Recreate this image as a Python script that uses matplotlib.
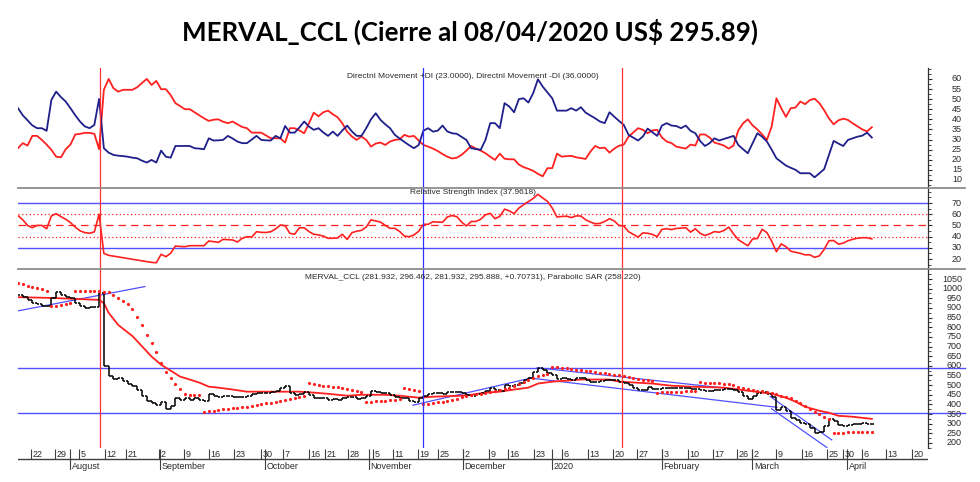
import numpy as np
import matplotlib
matplotlib.use("Agg")
import matplotlib.pyplot as plt
from matplotlib.lines import Line2D
from matplotlib.ticker import MultipleLocator
from matplotlib import font_manager

# ---------------- data (one value per trading day) ----------------
close = [965, 956, 940, 925, 918, 912, 910, 950, 985, 966,
         958, 950, 925, 910, 900, 904, 904, 978, 600, 545,
         532, 536, 520, 508, 495, 475, 445, 418, 405, 395,
         410, 378, 390, 433, 424, 435, 424, 433, 424, 419,
         455, 445, 440, 443, 445, 440, 436, 440, 446, 452,
         460, 461, 461, 463, 468, 485, 495, 458, 450, 455,
         466, 447, 435, 435, 435, 424, 429, 424, 432, 438,
         436, 430, 435, 446, 468, 466, 461, 461, 448, 438,
         435, 432, 417, 412, 435, 441, 455, 460, 457, 452,
         466, 466, 463, 458, 451, 442, 452, 460, 472, 483,
         476, 472, 500, 493, 501, 511, 525, 535, 570, 590,
         576, 565, 555, 530, 538, 530, 529, 535, 535, 528,
         518, 518, 522, 529, 529, 524, 516, 510, 500, 485,
         477, 477, 490, 479, 482, 487, 487, 484, 484, 487,
         483, 482, 480, 474, 471, 472, 476, 477, 478, 481,
         475, 465, 443, 430, 446, 461, 466, 452, 437, 370,
         385, 368, 330, 318, 305, 297, 280, 252, 257, 288,
         322, 315, 292, 287, 292, 296, 299, 303, 300, 296]

sar = [1032, 1022, 1014, 1008, 1003, 998, 990, 908, 912, 915,
       920, 924, 988, 988, 987, 987, 986, 986, 985, 981,
       968, 952, 937, 918, 895, 855, 810, 760, 716, 672,
       615, 570, 535, 508, 478, 455, 450, 450, 449, 362,
       365, 368, 371, 374, 377, 380, 383, 386, 389, 393,
       397, 401, 405, 409, 413, 417, 422, 428, 434, 440,
       444, 510, 506, 502, 498, 495, 492, 488, 484, 480,
       476, 471, 466, 412, 414, 416, 418, 420, 422, 424,
       426, 487, 482, 476, 470, 402, 404, 406, 410, 414,
       418, 423, 430, 436, 442, 448, 452, 456, 460, 464,
       468, 473, 478, 485, 495, 505, 515, 525, 535, 545,
       555, 560, 595, 592, 590, 587, 583, 580, 577, 574,
       571, 568, 565, 562, 559, 555, 551, 546, 541, 536,
       532, 528, 524, 520, 460, 462, 463, 464, 465, 466,
       467, 468, 469, 515, 513, 512, 511, 510, 508, 506,
       503, 490, 486, 482, 477, 472, 468, 463, 458, 452,
       446, 440, 432, 420, 405, 390, 375, 362, 350, 337,
       325, 252, 253, 254, 255, 256, 256, 257, 258, 258]

ma_idx = [0, 7, 17, 18, 19, 21, 24, 26, 28, 30, 32, 34, 36, 38, 40, 42, 45, 48, 51, 54,
          56, 59, 62, 65, 69, 72, 77, 80, 84, 87, 93, 95, 98, 101, 104, 107, 109, 112, 115, 118,
          124, 126, 133, 137, 141, 148, 153, 158, 161, 163, 165, 168, 170, 172, 175, 179]
ma_val = [956, 952, 942, 925, 875, 812, 754, 701, 648, 606, 575, 544, 529, 513, 492, 487, 477, 466, 466, 466,
          466, 466, 461, 455, 445, 450, 450, 445, 435, 440, 445, 450, 461, 466, 477, 487, 508, 518, 523, 529,
          529, 518, 508, 497, 492, 487, 471, 455, 435, 414, 388, 367, 357, 341, 336, 325]

dmi_plus = [45.5, 42.0, 39.5, 37.0, 35.6, 35.6, 34.3, 49.6, 53.7, 51.0,
            48.8, 45.5, 42.0, 38.9, 36.5, 35.6, 37.2, 50.1, 25.7, 23.5,
            22.4, 22.0, 21.8, 21.5, 21.0, 20.7, 19.5, 18.6, 19.9, 18.6,
            24.5, 21.5, 21.0, 26.8, 26.8, 26.8, 26.8, 25.7, 25.5, 25.2,
            30.6, 29.5, 29.6, 29.8, 31.8, 30.5, 29.0, 28.2, 28.2, 30.0,
            31.8, 29.8, 29.6, 29.5, 31.8, 30.6, 36.7, 33.4, 33.4, 36.0,
            38.9, 36.4, 34.8, 35.6, 33.5, 31.8, 33.9, 31.8, 34.5, 36.9,
            34.0, 31.8, 31.8, 35.6, 40.0, 43.0, 39.7, 37.5, 35.6, 32.3,
            30.5, 28.8, 27.2, 25.7, 27.3, 34.4, 35.6, 33.9, 34.4, 36.9,
            34.0, 33.1, 32.8, 31.3, 29.8, 25.7, 25.3, 24.9, 29.8, 38.1,
            38.1, 35.6, 48.0, 46.3, 43.5, 50.0, 50.4, 48.3, 52.9, 59.8,
            56.2, 53.3, 50.4, 44.3, 44.3, 44.3, 45.5, 44.3, 46.0, 43.3,
            41.9, 40.5, 38.9, 38.1, 43.5, 41.3, 39.2, 37.2, 32.3, 30.9,
            29.5, 31.5, 35.4, 33.6, 31.8, 36.9, 38.1, 36.9, 36.7, 35.6,
            36.9, 34.3, 33.1, 29.3, 26.8, 28.2, 30.6, 29.5, 30.3, 31.0,
            31.8, 27.3, 25.2, 23.2, 28.2, 33.1, 31.4, 29.0, 25.0, 20.7,
            18.9, 17.1, 16.0, 15.0, 13.3, 13.3, 13.3, 11.3, 13.3, 15.3,
            22.3, 29.3, 28.0, 26.8, 29.8, 30.6, 31.4, 31.9, 33.4, 31.0]

dmi_minus = [25.7, 28.2, 27.0, 31.8, 31.8, 29.8, 27.5, 24.9, 21.5, 21.2,
             25.2, 27.5, 32.5, 32.8, 33.3, 33.3, 32.8, 25.2, 54.6, 60.0,
             55.4, 53.7, 54.6, 54.6, 54.6, 55.9, 58.0, 60.0, 57.0, 59.0,
             54.9, 54.9, 52.0, 48.0, 46.5, 45.0, 45.0, 43.5, 42.0, 40.5,
             39.2, 39.8, 40.0, 38.8, 38.1, 38.9, 37.5, 36.2, 35.6, 33.4,
             33.4, 33.4, 32.0, 30.6, 30.6, 30.6, 28.5, 35.6, 35.6, 34.5,
             33.1, 38.0, 43.3, 41.5, 43.5, 44.3, 42.5, 41.0, 38.0, 33.9,
             31.5, 29.8, 31.5, 29.8, 26.5, 28.0, 28.5, 27.3, 29.0, 29.8,
             30.1, 32.3, 31.4, 31.8, 29.5, 27.3, 26.5, 25.5, 24.3, 22.8,
             21.5, 20.6, 21.0, 22.4, 24.5, 26.8, 25.5, 24.5, 23.2, 21.5,
             19.9, 23.0, 20.5, 20.2, 20.2, 17.6, 16.3, 15.5, 14.5, 13.0,
             11.8, 15.8, 15.8, 23.0, 21.5, 21.8, 21.9, 21.2, 20.8, 20.4,
             24.0, 26.8, 25.7, 26.0, 23.5, 25.5, 26.9, 27.5, 31.4, 33.5,
             35.6, 34.8, 33.1, 34.5, 34.8, 31.0, 29.0, 28.2, 26.5, 26.0,
             25.5, 27.5, 27.0, 32.5, 32.5, 31.0, 28.5, 27.8, 27.0, 25.5,
             27.0, 34.5, 38.0, 40.0, 37.0, 35.0, 32.5, 29.8, 36.4, 50.4,
             45.5, 41.2, 45.5, 45.8, 48.8, 47.5, 49.5, 50.2, 48.0, 44.5,
             40.5, 37.5, 39.5, 40.3, 39.7, 38.0, 36.5, 35.0, 34.0, 36.1]

rsi = [58.7, 55.0, 50.0, 48.0, 50.0, 50.0, 47.0, 58.5, 60.5, 57.8,
       55.5, 52.5, 48.5, 45.2, 43.6, 43.0, 44.2, 59.9, 25.0, 23.3,
       22.6, 22.0, 21.3, 20.6, 19.8, 19.1, 18.4, 17.6, 17.0, 16.7,
       24.2, 22.1, 25.1, 31.6, 31.2, 31.0, 31.9, 31.9, 31.9, 31.9,
       36.1, 35.5, 34.9, 37.6, 37.3, 37.0, 35.2, 38.5, 39.9, 39.6,
       44.4, 43.8, 43.7, 44.4, 46.8, 50.4, 49.7, 42.9, 42.2, 47.9,
       47.9, 44.5, 42.1, 41.5, 40.5, 38.5, 38.5, 38.8, 42.1, 37.5,
       43.5, 44.8, 45.6, 48.5, 55.0, 54.0, 53.0, 50.0, 47.4, 47.4,
       44.6, 40.5, 39.9, 41.5, 44.8, 51.0, 51.0, 53.3, 53.0, 52.8,
       57.5, 58.8, 57.8, 53.0, 49.5, 53.5, 53.5, 55.5, 59.5, 60.8,
       56.0, 58.0, 64.5, 63.0, 60.5, 65.5, 68.5, 71.2, 74.1, 77.8,
       74.5, 71.5, 65.5, 57.5, 58.0, 58.2, 57.0, 58.5, 58.4, 55.0,
       53.0, 51.5, 51.8, 53.5, 56.0, 54.0, 49.9, 49.5, 44.4, 42.0,
       39.6, 43.3, 43.0, 42.0, 40.0, 46.5, 47.0, 46.3, 47.3, 47.6,
       47.9, 44.0, 47.0, 43.0, 41.0, 42.5, 44.5, 43.9, 45.5, 48.5,
       42.5, 37.3, 34.5, 31.8, 37.9, 38.3, 46.5, 43.6, 36.0, 26.5,
       33.5, 31.0, 27.0, 26.0, 25.1, 23.7, 23.8, 21.5, 22.8, 28.5,
       36.3, 36.5, 33.3, 34.2, 36.3, 37.6, 38.6, 39.0, 39.0, 38.0]

# analyst annotations (day index, value)
trend_lines = [(0, 885, 26.6, 1011), (82.8, 396, 108.0, 539), (108.8, 590, 150.7, 478),
               (107.3, 537, 159.1, 385), (157.7, 441, 170.6, 216), (158.0, 377, 169.6, 176)]
price_levels = [590, 353]
vlines_red = [17.2, 126.6]
vlines_blue = [84.9]

day_labels = ['22', '29', '5', '12', '21', '2', '9', '16', '23', '30', '7', '16', '21', '28', '5',
              '11', '19', '25', '2', '9', '16', '23', '6', '13', '20', '27', '3', '10', '17', '26',
              '2', '9', '16', '25', '30', '6', '13', '20']
day_pos = [2.7, 7.8, 12.8, 18.2, 22.6, 29.6, 34.8, 40.0, 45.3, 50.9, 55.6, 61.0, 64.4, 69.2, 74.4,
           78.6, 83.9, 88.1, 93.3, 98.7, 102.7, 108.2, 114.0, 119.5, 124.7, 129.8, 135.0, 140.5, 145.7, 150.7,
           153.9, 158.9, 164.4, 169.6, 172.9, 176.9, 182.0, 187.4]
month_labels = ['August', 'September', 'October', 'November', 'December', '2020', 'February', 'March', 'April']
month_pos = [10.9, 29.8, 51.8, 73.6, 93.3, 111.9, 135.0, 153.9, 173.8]

title = "MERVAL_CCL (Cierre al 08/04/2020 US$ 295.89)"
dmi_title = "Directnl Movement +DI (23.0000), Directnl Movement -DI (36.0000)"
rsi_title = "Relative Strength Index (37.9618)"
px_title = "MERVAL_CCL (281.932, 296.462, 281.932, 295.888, +0.70731), Parabolic SAR (258.220)"

# ---------------- layout ----------------
W, H = 980, 482
L, R = 18, 928
X_MAX = (R - L) / 4.77
RED = '#ff2020'
NAVY = '#1f1f8c'
LBLUE = '#5050ff'
TXT = '#2a2a2a'
SMALL = ['Liberation Sans', 'DejaVu Sans']

names = {f.name for f in font_manager.fontManager.ttflist}
if 'Liberation Sans Narrow' in names:
    tfam, tsize = ['Liberation Sans Narrow', 'DejaVu Sans'], 22
else:
    tfam, tsize = ['Lato', 'DejaVu Sans'], 18.6


def fx(p):
    return p / W


def fy(p):
    return 1 - p / H


fig = plt.figure(figsize=(W / 100, H / 100), dpi=100)
fig.patch.set_facecolor('white')

ax_dmi = fig.add_axes([fx(L), fy(188), (R - L) / W, (188 - 68) / H])
ax_rsi = fig.add_axes([fx(L), fy(269), (R - L) / W, (269 - 188) / H])
ax_px = fig.add_axes([fx(L), fy(448), (R - L) / W, (448 - 269) / H])
ax_x = fig.add_axes([fx(L), fy(470), (R - L) / W, (470 - 448) / H])

LBL_X = (962 - L) / (R - L)


def style(ax, ylim, labels, minor):
    ax.set_xlim(0, X_MAX)
    ax.set_ylim(*ylim)
    for s in ['left', 'top', 'bottom']:
        ax.spines[s].set_visible(False)
    ax.spines['right'].set_color('#303030')
    ax.spines['right'].set_linewidth(0.9)
    ax.xaxis.set_visible(False)
    ax.yaxis.tick_right()
    ax.set_yticks(labels)
    ax.yaxis.set_minor_locator(MultipleLocator(minor))
    ax.tick_params(axis='y', which='major', length=3.2, width=0.8, color='#303030', labelright=False)
    ax.tick_params(axis='y', which='minor', length=1.8, width=0.6, color='#303030')
    for v in labels:
        ax.text(LBL_X, v, str(v), transform=ax.get_yaxis_transform(), ha='right', va='center',
                fontsize=6.5, color=TXT, family=SMALL, clip_on=False)
    ax.patch.set_alpha(0)


style(ax_dmi, (6.0, 65.4), list(range(10, 61, 5)), 2.5)
style(ax_rsi, (11.1, 83.4), list(range(20, 71, 10)), 5)
style(ax_px, (174, 1102), list(range(200, 1051, 50)), 25)

idx = np.arange(len(close))

# DMI panel
ax_dmi.plot(idx, dmi_minus, color=RED, lw=1.3)
ax_dmi.plot(idx, dmi_plus, color=NAVY, lw=1.3)
ax_dmi.text(0.5, 0.925, dmi_title, transform=ax_dmi.transAxes, ha='center', va='center',
            fontsize=6, color=TXT, family=SMALL)

# RSI panel
for v in (70, 30):
    ax_rsi.axhline(v, color=LBLUE, lw=1.0)
for v in (60, 40):
    ax_rsi.axhline(v, color=RED, lw=0.9, ls=(0, (1, 2)))
ax_rsi.axhline(50, color=RED, lw=0.9, ls=(0, (6, 4)))
ax_rsi.plot(idx, rsi, color=RED, lw=1.2)
ax_rsi.text(0.5, 0.95, rsi_title, transform=ax_rsi.transAxes, ha='center', va='center',
            fontsize=6, color=TXT, family=SMALL)

# Price panel
c = np.array(close, dtype=float)
o = np.concatenate([[c[0]], c[:-1]])
hi = np.maximum(o, c)
lo = np.minimum(o, c)
ext = (965 - L) / (R - L)
for v in price_levels:
    ax_px.plot([0, ext], [v, v], transform=ax_px.get_yaxis_transform(), color=LBLUE, lw=1.0, clip_on=False)
for x0, y0, x1, y1 in trend_lines:
    ax_px.plot([x0, x1], [y0, y1], color=LBLUE, lw=0.9)
ax_px.plot(ma_idx, ma_val, color=RED, lw=1.3)
ax_px.vlines(idx, lo, hi, color='black', lw=1.1)
ax_px.hlines(o, idx - 0.45, idx, color='black', lw=1.1)
ax_px.hlines(c, idx, idx + 0.45, color='black', lw=1.1)
ax_px.plot(idx, sar, ls='none', marker='o', ms=2.3, mec='none', color=RED)
ax_px.text(0.5, 0.955, px_title, transform=ax_px.transAxes, ha='center', va='center',
           fontsize=6, color=TXT, family=SMALL)

for ax in (ax_dmi, ax_rsi, ax_px):
    for v in vlines_red:
        ax.axvline(v, color='#ff3030', lw=0.9)
    for v in vlines_blue:
        ax.axvline(v, color='#3030ff', lw=0.9)

# x axis strip
ax_x.set_xlim(0, X_MAX)
ax_x.set_ylim(0, 1)
ax_x.axis('off')
ax_x.axhline(0.5, color='#404040', lw=1.0)
ax_x.vlines(day_pos, 0.5, 0.95, color='#404040', lw=0.8)
ax_x.vlines(month_pos, 0.02, 0.95, color='#404040', lw=0.8)
for p, t in zip(day_pos, day_labels):
    ax_x.text(p + 0.3, 0.72, t, ha='left', va='center', fontsize=6.5, color=TXT, family=SMALL)
for p, t in zip(month_pos, month_labels):
    ax_x.text(p + 0.35, 0.18, t, ha='left', va='center', fontsize=6.5, color=TXT, family=SMALL)

# panel separators
for yy in (188, 269):
    fig.add_artist(Line2D([fx(L), fx(965)], [fy(yy), fy(yy)], color='#8c8c8c', lw=1.3))

fig.text(fx(470), fy(32), title, ha='center', va='center', fontsize=tsize,
         fontweight='bold', family=tfam, color='black')

fig.savefig('out.png', dpi=100, facecolor='white')
